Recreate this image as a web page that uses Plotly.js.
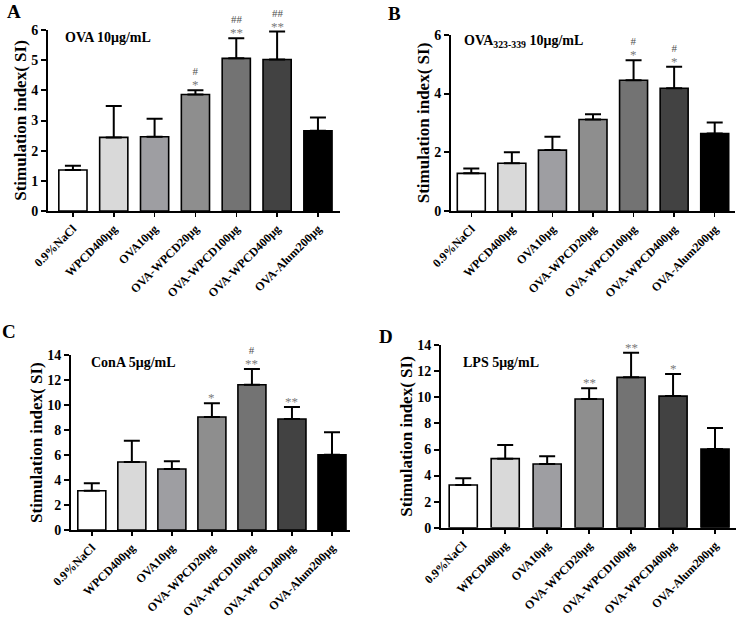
<!DOCTYPE html>
<html>
<head>
<meta charset="utf-8">
<script src="https://cdn.plot.ly/plotly-3.0.1.min.js"></script>
<style>html,body{margin:0;padding:0;background:#fff;}#chart{width:736px;height:618px;}</style>
</head>
<body>
<div id="chart"></div>
<script>
// ---- data ----
const categories = ["0.9%NaCl", "WPCD400μg", "OVA10μg", "OVA-WPCD20μg", "OVA-WPCD100μg", "OVA-WPCD400μg", "OVA-Alum200μg"];
const barColors = ["#ffffff", "#d9d9d9", "#9e9ea2", "#8e8e8e", "#737373", "#424242", "#000000"];

const meanA = [1.36, 2.44, 2.46, 3.86, 5.06, 5.02, 2.66];
const upperA = [1.50, 3.48, 3.06, 4.00, 5.73, 5.95, 3.10];
const starsA = ["", "", "", "*", "**", "**", ""];
const hashA = ["", "", "", "#", "##", "##", ""];

const meanB = [1.29, 1.63, 2.08, 3.12, 4.45, 4.18, 2.64];
const upperB = [1.45, 2.01, 2.53, 3.30, 5.13, 4.91, 3.02];
const starsB = ["", "", "", "", "*", "*", ""];
const hashB = ["", "", "", "", "#", "#", ""];

const meanC = [3.15, 5.45, 4.89, 9.05, 11.64, 8.89, 6.03];
const upperC = [3.74, 7.16, 5.50, 10.15, 12.90, 9.86, 7.83];
const starsC = ["", "", "", "*", "**", "**", ""];
const hashC = ["", "", "", "", "#", "", ""];

const meanD = [3.28, 5.30, 4.89, 9.88, 11.54, 10.10, 6.04];
const upperD = [3.79, 6.35, 5.48, 10.70, 13.43, 11.80, 7.65];
const starsD = ["", "", "", "**", "**", "*", ""];
const hashD = ["", "", "", "", "", "", ""];

// ---- styling ----
const FONT = '"Liberation Serif", "Times New Roman", serif';
const panels = [
  {key: "", mean: meanA, upper: upperA, stars: starsA, hash: hashA, bw: 0.69,
   xdom: [48/736, 340/736], ydom: [1-211/618, 1-30/618], xr: [-0.61, 6.54], yr: [0, 6], dt: 1,
   letter: "A", lx: 14, ly: 12, label: "OVA 10μg/mL", labx: 63, laby: 37},
  {key: "2", mean: meanB, upper: upperB, stars: starsB, hash: hashB, bw: 0.69,
   xdom: [451/736, 735/736], ydom: [1-211.3/618, 1-34.7/618], xr: [-0.5, 6.5], yr: [0, 6], dt: 2,
   letter: "B", lx: 394, ly: 14, label: "OVA<sub>323-339</sub> 10μg/mL", labx: 462, laby: 42},
  {key: "3", mean: meanC, upper: upperC, stars: starsC, hash: hashC, bw: 0.70,
   xdom: [71/736, 350/736], ydom: [1-530/618, 1-355.3/618], xr: [-0.52, 6.45], yr: [0, 14], dt: 2,
   letter: "C", lx: 9, ly: 331, label: "ConA 5μg/mL", labx: 89, laby: 362},
  {key: "4", mean: meanD, upper: upperD, stars: starsD, hash: hashD, bw: 0.67,
   xdom: [441/736, 736/736], ydom: [1-527.7/618, 1-345.3/618], xr: [-0.53, 6.5], yr: [0, 14], dt: 2,
   letter: "D", lx: 386, ly: 336, label: "LPS 5μg/mL", labx: 461, laby: 362}
];

const traces = [];
const layout = {
  width: 736, height: 618,
  margin: {l: 0, r: 0, t: 0, b: 0},
  paper_bgcolor: "#ffffff", plot_bgcolor: "rgba(0,0,0,0)",
  showlegend: false,
  font: {family: FONT, color: "#000"},
  annotations: []
};

panels.forEach(p => {
  const xa = "x" + p.key, ya = "y" + p.key;
  traces.push({
    type: "bar", x: categories, y: p.mean, xaxis: xa, yaxis: ya, width: p.bw,
    marker: {color: barColors, line: {color: "#000", width: 1.6}},
    error_y: {type: "data", symmetric: false,
      array: p.upper.map((u, i) => u - p.mean[i]), arrayminus: p.mean.map(() => 0),
      color: "#000", thickness: 2, width: 8},
    hoverinfo: "skip"
  });
  const xName = "xaxis" + p.key, yName = "yaxis" + p.key;
  layout[xName] = {
    domain: p.xdom, anchor: ya, type: "category", range: p.xr,
    showline: true, linecolor: "#000", linewidth: 2, showgrid: false, zeroline: false,
    ticks: "outside", ticklen: 4, tickwidth: 1.5, tickcolor: "#000",
    tickangle: -45, tickfont: {family: FONT, size: 12, color: "#000", weight: "bold"},
    fixedrange: true
  };
  layout[yName] = {
    domain: p.ydom, anchor: xa, range: p.yr, dtick: p.dt,
    showline: true, linecolor: "#000", linewidth: 2, showgrid: false, zeroline: false,
    ticks: "outside", ticklen: 5, tickwidth: 2, tickcolor: "#000",
    tickfont: {family: FONT, size: 14, color: "#000", weight: "bold"},
    title: {text: "Stimulation index( SI)", font: {family: FONT, size: 17, color: "#000", weight: "bold"}, standoff: 0},
    fixedrange: true
  };
  // panel letter
  layout.annotations.push({xref: "paper", yref: "paper", x: p.lx/736, y: 1 - p.ly/618,
    xanchor: "center", yanchor: "middle", showarrow: false, text: "<b>" + p.letter + "</b>",
    font: {family: FONT, size: 19, color: "#000"}});
  // stimulant label
  layout.annotations.push({xref: "paper", yref: "paper", x: p.labx/736, y: 1 - p.laby/618,
    xanchor: "left", yanchor: "middle", showarrow: false, text: "<b>" + p.label + "</b>",
    font: {family: FONT, size: 14, color: "#000"}});
  // significance marks (hash line above star line, one text block per bar)
  categories.forEach((c, i) => {
    const lines = [];
    if (p.hash[i]) lines.push('<span style="color:#505050">' + p.hash[i] + '</span>');
    if (p.stars[i]) lines.push('<span style="color:#7a7a7a;font-size:13px">' + p.stars[i] + '</span>');
    if (lines.length) {
      layout.annotations.push({xref: xa, yref: ya, x: c, y: p.upper[i], xanchor: "center", yanchor: "bottom",
        showarrow: false, text: lines.join("<br>"), yshift: -4,
        font: {family: FONT, size: 11, color: "#666"}});
    }
  });
});

Plotly.newPlot("chart", traces, layout, {staticPlot: true, displayModeBar: false});
</script>
</body>
</html>
